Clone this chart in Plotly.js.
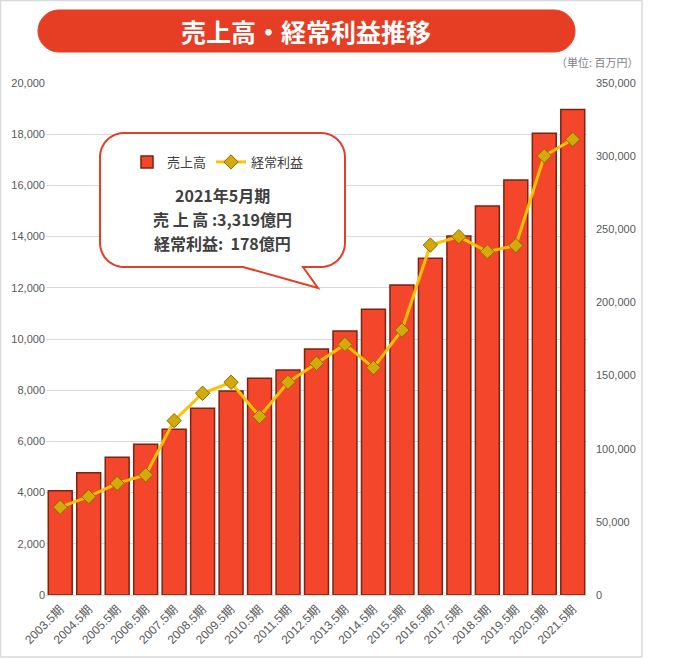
<!DOCTYPE html>
<html>
<head>
<meta charset="utf-8">
<script src="https://cdn.plot.ly/plotly-3.0.1.min.js"></script>
<style>html,body{margin:0;padding:0;background:#fff;}#chart{width:684px;height:659px;}</style>
</head>
<body>
<div id="chart"></div>
<script>
// ---- data ----
const periods = ["2003.5期","2004.5期","2005.5期","2006.5期","2007.5期","2008.5期","2009.5期","2010.5期","2011.5期","2012.5期","2013.5期","2014.5期","2015.5期","2016.5期","2017.5期","2018.5期","2019.5期","2020.5期","2021.5期"];
// 売上高 (百万円) - right axis
const sales = [71300,83600,94100,103000,113300,127600,139500,148100,153800,168200,180500,195300,211900,230200,245400,265900,283700,315600,331900];
// 経常利益 (百万円) - left axis
const ordinaryProfit = [3430,3840,4360,4690,6810,7880,8310,6970,8310,9050,9790,8880,10350,13670,14000,13410,13650,17150,17800];
const leftTicks = [0,2000,4000,6000,8000,10000,12000,14000,16000,18000,20000];
const rightTicks = [0,50000,100000,150000,200000,250000,300000,350000];
const calloutLines = ['2021年5月期', '売 上 高 :3,319億円', '経常利益:  178億円'];

// ---- layout helpers ----
const W = 684, H = 659, ML = 46, MR = 97, MT = 83, MB = 64;
const PW = W - ML - MR, PH = H - MT - MB;
const px = x => (x - ML) / PW;
const py = y => (H - MB - y) / PH;

function arcPts(pts, cx, cy, r, a0, a1) {
  for (let i = 0; i <= 10; i++) {
    const a = a0 + (a1 - a0) * i / 10;
    pts.push([cx + r * Math.cos(a), cy + r * Math.sin(a)]);
  }
}
function roundRectPts(x0, y0, x1, y1, r) {
  const pts = [];
  arcPts(pts, x1 - r, y0 + r, r, -Math.PI / 2, 0);
  arcPts(pts, x1 - r, y1 - r, r, 0, Math.PI / 2);
  arcPts(pts, x0 + r, y1 - r, r, Math.PI / 2, Math.PI);
  arcPts(pts, x0 + r, y0 + r, r, Math.PI, 1.5 * Math.PI);
  return pts;
}
function bubblePts() {
  const x0 = 100, y0 = 133, x1 = 345, y1 = 267, r = 24;
  const pts = [];
  arcPts(pts, x1 - r, y0 + r, r, -Math.PI / 2, 0);
  arcPts(pts, x1 - r, y1 - r, r, 0, Math.PI / 2);
  pts.push([303, y1]); pts.push([318, 288]); pts.push([243, y1]);
  arcPts(pts, x0 + r, y1 - r, r, Math.PI / 2, Math.PI);
  arcPts(pts, x0 + r, y0 + r, r, Math.PI, 1.5 * Math.PI);
  return pts;
}
function toPath(pts) {
  return pts.map((p, i) => (i ? 'L' : 'M') + px(p[0]).toFixed(5) + ',' + py(p[1]).toFixed(5)).join(' ') + ' Z';
}

const numFont = 'Liberation Sans, Noto Sans CJK JP, sans-serif';
const jpFont = 'Noto Sans CJK JP, sans-serif';

const traces = [
  {
    type: 'bar', name: '売上高', x: periods, y: sales, yaxis: 'y',
    marker: {color: '#F4462A', line: {color: '#7A2414', width: 1.5}},
    hoverinfo: 'skip'
  },
  {
    type: 'scatter', mode: 'lines+markers', name: '経常利益', x: periods, y: ordinaryProfit, yaxis: 'y2',
    line: {color: '#FFC000', width: 3},
    marker: {symbol: 'diamond', size: 11, color: '#D4AA0A', line: {color: '#8A6A00', width: 1}},
    hoverinfo: 'skip'
  }
];

const calloutY = [195, 219, 243];
const annotations = [
  {xref: 'paper', yref: 'paper', x: px(306), y: py(31), xanchor: 'center', yanchor: 'middle', showarrow: false,
   text: '<b>売上高・経常利益推移</b>', font: {family: jpFont, size: 25, color: '#ffffff'}},
  {xref: 'paper', yref: 'paper', x: px(641), y: py(62), xanchor: 'right', yanchor: 'middle', showarrow: false,
   text: '（単位: 百万円）', font: {family: jpFont, size: 11, color: '#7F7F7F'}}
];
calloutLines.forEach((t, i) => {
  annotations.push({xref: 'paper', yref: 'paper', x: px(222), y: py(calloutY[i]), xanchor: 'center', yanchor: 'middle',
    showarrow: false, text: '<b>' + t + '</b>', font: {family: jpFont, size: 16, color: '#404040'}});
});

const layout = {
  width: W, height: H,
  margin: {l: ML, r: MR, t: MT, b: MB},
  paper_bgcolor: '#ffffff', plot_bgcolor: 'rgba(0,0,0,0)',
  showlegend: true,
  bargap: 0.16,
  legend: {
    orientation: 'h', x: px(127), y: py(162), xanchor: 'left', yanchor: 'middle',
    bgcolor: 'rgba(0,0,0,0)', font: {family: jpFont, size: 13, color: '#404040'},
    itemwidth: 30, tracegroupgap: 0
  },
  xaxis: {
    type: 'category', range: [-0.5, periods.length - 0.5], tickangle: -45, showgrid: false, showline: false, ticks: '',
    ticklabelstandoff: 4,
    tickfont: {family: numFont, size: 12, color: '#595959'}, fixedrange: true
  },
  yaxis: {
    side: 'right', range: [0, 350000], tickvals: rightTicks, tickformat: ',d',
    showgrid: false, zeroline: false, showline: false, ticks: '',
    ticklabelstandoff: 8,
    tickfont: {family: numFont, size: 11, color: '#595959'}
  },
  yaxis2: {
    side: 'left', overlaying: 'y', range: [0, 20000], tickvals: leftTicks, tickformat: ',d',
    showgrid: true, gridcolor: '#D9D9D9', gridwidth: 1, zeroline: true, zerolinecolor: '#D9D9D9',
    showline: false, ticks: '',
    tickfont: {family: numFont, size: 11, color: '#595959'}
  },
  shapes: [
    {type: 'rect', xref: 'paper', yref: 'paper', x0: px(0.5), x1: px(642), y0: py(0.5), y1: py(657),
     line: {color: '#D9D9D9', width: 1.5}, fillcolor: 'rgba(0,0,0,0)', layer: 'below'},
    {type: 'path', xref: 'paper', yref: 'paper', path: toPath(roundRectPts(38, 10, 575, 52, 21)),
     fillcolor: '#E63E25', line: {color: '#E63E25', width: 1}, layer: 'above'},
    {type: 'path', xref: 'paper', yref: 'paper', path: toPath(bubblePts()),
     fillcolor: '#ffffff', line: {color: '#E63E25', width: 2}, layer: 'above'}
  ],
  annotations: annotations
};

Plotly.newPlot('chart', traces, layout, {displayModeBar: false, staticPlot: true});
</script>
</body>
</html>
